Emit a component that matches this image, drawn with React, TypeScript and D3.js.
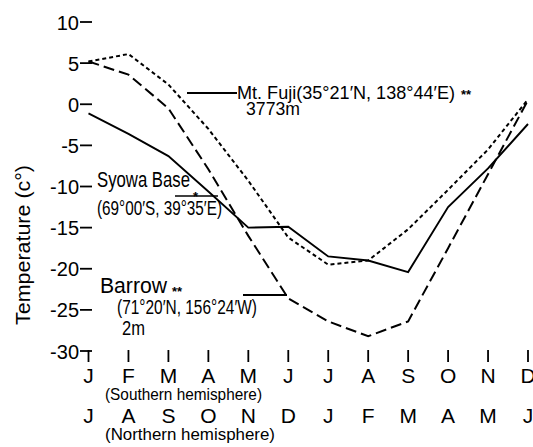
import React from "react";
import * as d3 from "d3";

const monthsSouth = ["J", "F", "M", "A", "M", "J", "J", "A", "S", "O", "N", "D"];
const monthsNorth = ["J", "A", "S", "O", "N", "D", "J", "F", "M", "A", "M", "J"];
const yTicks = [10, 5, 0, -5, -10, -15, -20, -25, -30];

const syowa = [-1.1, -3.6, -6.3, -10.6, -15.0, -14.9, -18.5, -19.0, -20.4, -12.5, -7.8, -2.4];
const fuji = [5.2, 6.1, 2.4, -3.0, -9.3, -16.2, -19.5, -19.0, -15.2, -10.4, -5.5, 0.6];
const barrow = [5.2, 3.6, -0.5, -7.9, -16.0, -23.6, -26.4, -28.2, -26.4, -17.5, -8.5, 0.5];

const W = 533;
const H = 447;
const FONT = "'Liberation Sans Narrow', 'Liberation Sans', Arial, sans-serif";

export default function App() {
  const x = d3.scaleLinear().domain([0, 11]).range([88.5, 528]);
  const y = d3.scaleLinear().domain([-30, 10]).range([351, 22]);
  const line = d3
    .line<number>()
    .x((_, i) => x(i))
    .y((d) => y(d));

  return (
    <svg
      width={W}
      height={H}
      style={{ position: "absolute", left: 0, top: 0, background: "#fff" }}
      fontFamily={FONT}
    >
      {/* Y axis ticks */}
      {yTicks.map((t) => (
        <g key={t}>
          <line x1={80} x2={92} y1={y(t)} y2={y(t)} stroke="#000" strokeWidth={1.8} />
          <text x={79} y={y(t) + 7.5} fontSize={20} textAnchor="end" fill="#000">
            {t < 0 ? "-" + Math.abs(t) : String(t)}
          </text>
        </g>
      ))}
      <text
        transform="translate(30,245) rotate(-90)"
        fontSize={20}
        textAnchor="middle"
        textLength={160}
        lengthAdjust="spacingAndGlyphs"
        fill="#000"
      >
        Temperature (c°)
      </text>

      {/* X ticks and labels */}
      {monthsSouth.map((m, i) => (
        <g key={"s" + i}>
          <line x1={x(i)} x2={x(i)} y1={350} y2={362} stroke="#000" strokeWidth={1.8} />
          <text x={x(i)} y={383} fontSize={21} textAnchor="middle" fill="#000">
            {m}
          </text>
        </g>
      ))}
      {monthsNorth.map((m, i) => (
        <text key={"n" + i} x={x(i)} y={423} fontSize={21} textAnchor="middle" fill="#000">
          {m}
        </text>
      ))}
      <text x={105} y={400} fontSize={17} textLength={157} lengthAdjust="spacingAndGlyphs" fill="#000">
        (Southern hemisphere)
      </text>
      <text x={105} y={440} fontSize={17} textLength={170} lengthAdjust="spacingAndGlyphs" fill="#000">
        (Northern hemisphere)
      </text>

      {/* data lines */}
      <path d={line(syowa) || ""} fill="none" stroke="#000" strokeWidth={1.9} />
      <path d={line(fuji) || ""} fill="none" stroke="#000" strokeWidth={2} strokeDasharray="4 3" />
      <path d={line(barrow) || ""} fill="none" stroke="#000" strokeWidth={2} strokeDasharray="11 5" />

      {/* Mt. Fuji annotation */}
      <line x1={187} x2={237} y1={93} y2={93} stroke="#000" strokeWidth={1.8} />
      <text x={237} y={99} fontSize={19} textLength={218} lengthAdjust="spacingAndGlyphs" fill="#000">
        Mt. Fuji(35°21′N, 138°44′E)
      </text>
      <text x={461} y={99} fontSize={13} fontWeight="bold" fill="#000">
        **
      </text>
      <text x={246} y={115} fontSize={18} textLength={54} lengthAdjust="spacingAndGlyphs" fill="#000">
        3773m
      </text>

      {/* Syowa annotation */}
      <line x1={175} x2={218} y1={196} y2={196} stroke="#000" strokeWidth={1.6} />
      <text x={97} y={187} fontSize={22} textLength={93} lengthAdjust="spacingAndGlyphs" fill="#000">
        Syowa Base
      </text>
      <text x={193} y={201} fontSize={13} fontWeight="bold" fill="#000">
        *
      </text>
      <text x={97} y={215} fontSize={20} textLength={125} lengthAdjust="spacingAndGlyphs" fill="#000">
        (69°00′S, 39°35′E)
      </text>

      {/* Barrow annotation */}
      <line x1={243} x2={287} y1={295} y2={295} stroke="#000" strokeWidth={1.8} />
      <text x={100} y={293} fontSize={22} textLength={67} lengthAdjust="spacingAndGlyphs" fill="#000">
        Barrow
      </text>
      <text x={172} y={296} fontSize={13} fontWeight="bold" fill="#000">
        **
      </text>
      <text x={117} y={314} fontSize={20} textLength={140} lengthAdjust="spacingAndGlyphs" fill="#000">
        (71°20′N, 156°24′W)
      </text>
      <text x={122} y={335} fontSize={20} textLength={23} lengthAdjust="spacingAndGlyphs" fill="#000">
        2m
      </text>
    </svg>
  );
}
